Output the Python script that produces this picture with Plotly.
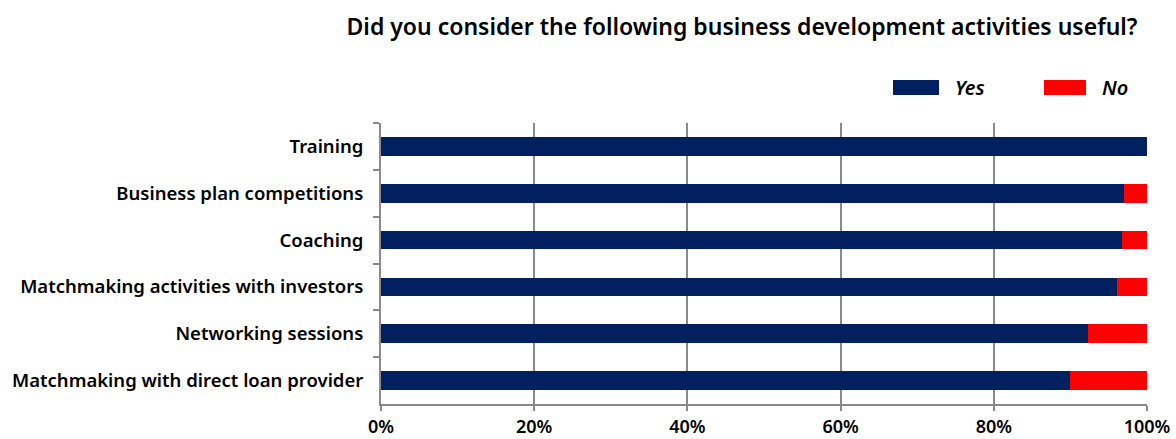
import plotly.graph_objects as go

# Survey results: share of respondents who found each activity useful
activities = [
    "Training",
    "Business plan competitions",
    "Coaching",
    "Matchmaking activities with investors",
    "Networking sessions",
    "Matchmaking with direct loan provider",
]
yes_pct = [100.0, 97.0, 96.8, 96.1, 92.3, 90.0]
no_pct = [0.0, 3.0, 3.2, 3.9, 7.7, 10.0]

series_names = ["Yes", "No"]
series_colors = ["#002060", "#FF0000"]
x_ticks = [0, 20, 40, 60, 80, 100]
x_tick_labels = ["0%", "20%", "40%", "60%", "80%", "100%"]

FONT = "Noto Sans, Liberation Sans, Arial, sans-serif"
WEIGHT = 600
GRID = "#8a8a8a"

fig = go.Figure()
for name, vals, col in zip(series_names, [yes_pct, no_pct], series_colors):
    fig.add_trace(go.Bar(
        y=activities, x=vals, name=name, orientation="h",
        marker=dict(color=col, line=dict(width=0)),
        width=0.4, showlegend=False,
    ))

fig.update_layout(
    barmode="stack",
    width=1176, height=439,
    margin=dict(l=381, r=29, t=123, b=35),
    paper_bgcolor="white", plot_bgcolor="white",
    font=dict(family=FONT, color="#000000"),
    title=dict(
        text="Did you consider the following business development activities useful?",
        x=742 / 1176, xanchor="center", y=1 - 27 / 439, yanchor="middle",
        font=dict(size=23, family=FONT, color="#000000", weight=WEIGHT),
    ),
    xaxis=dict(
        range=[0, 100], tickvals=x_ticks, ticktext=x_tick_labels,
        showgrid=True, gridcolor=GRID, gridwidth=2,
        showline=True, linecolor=GRID, linewidth=2,
        ticks="outside", ticklen=5, tickcolor=GRID, tickwidth=2,
        tickfont=dict(size=18, family=FONT, color="#000000", weight=WEIGHT),
        zeroline=False, fixedrange=True, automargin=False,
    ),
    yaxis=dict(
        autorange="reversed",
        showline=True, linecolor=GRID, linewidth=2,
        ticks="outside", tickson="boundaries", ticklen=6,
        tickcolor=GRID, tickwidth=2,
        tickfont=dict(size=18.5, family=FONT, color="#000000", weight=WEIGHT),
        ticklabelstandoff=12,
        showgrid=False, fixedrange=True, automargin=False,
    ),
)

# Legend drawn as wide swatches with italic labels above the plot area
legend_items = [
    (series_names[0], series_colors[0], 893, 939, 953),
    (series_names[1], series_colors[1], 1044, 1086, 1100),
]
for label, col, x0, x1, xt in legend_items:
    fig.add_shape(
        type="rect", xref="paper", yref="paper",
        x0=(x0 - 381) / 766, x1=(x1 - 381) / 766,
        y0=(404 - 95) / 281, y1=(404 - 80) / 281,
        fillcolor=col, line=dict(width=0),
    )
    fig.add_annotation(
        xref="paper", yref="paper",
        x=(xt - 381) / 766, y=(404 - 87) / 281,
        text=f"<i>{label}</i>", showarrow=False,
        xanchor="left", yanchor="middle",
        font=dict(size=20, family=FONT, color="#000000", weight=WEIGHT),
    )

fig.write_html("out.html")
